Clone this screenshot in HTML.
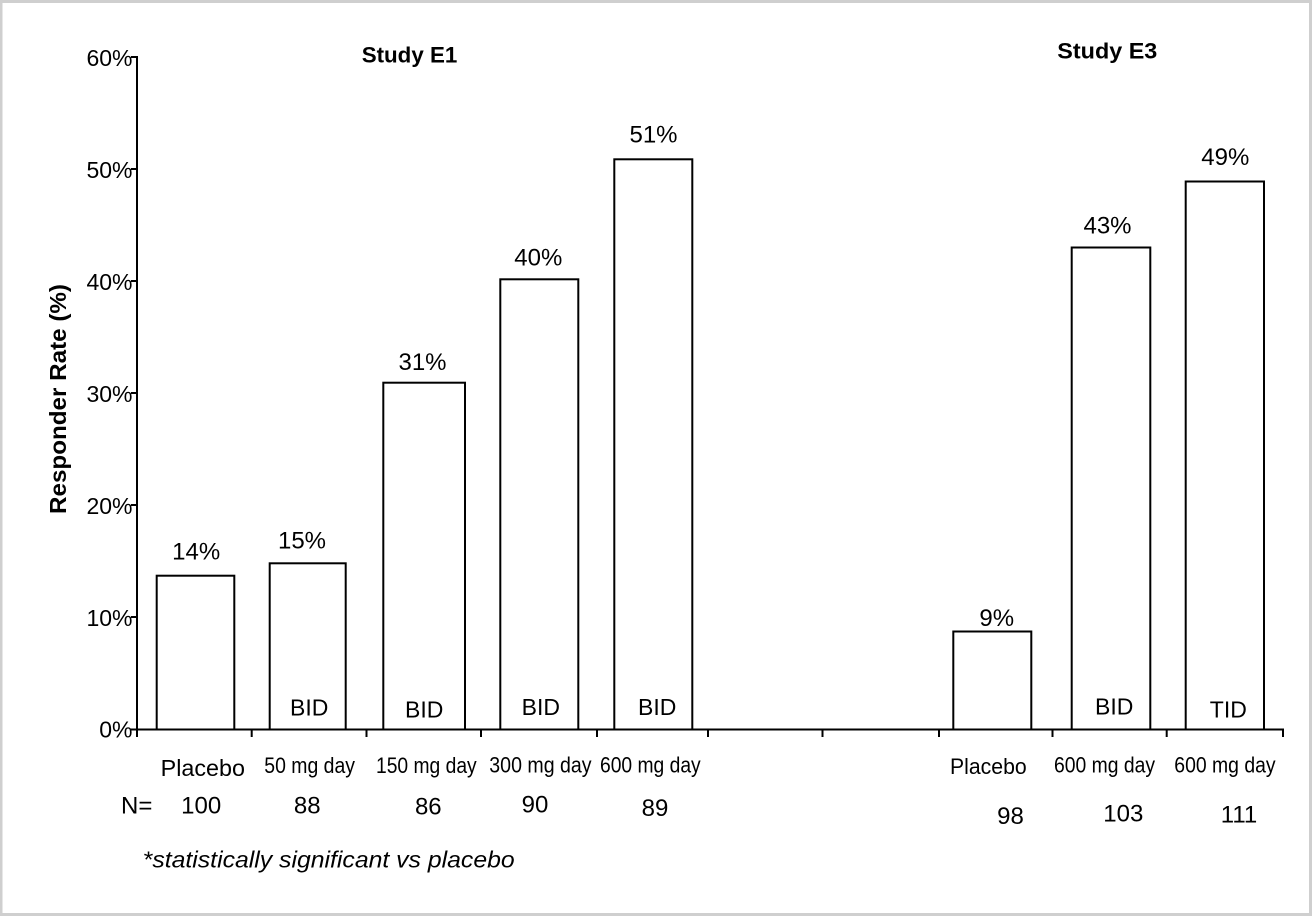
<!DOCTYPE html>
<html>
<head>
<meta charset="utf-8">
<style>
  html, body { margin: 0; padding: 0; background: #ffffff; }
  svg { display: block; }
  text { font-family: "Liberation Sans", Arial, sans-serif; fill: #000; }
</style>
</head>
<body>
<svg width="1312" height="916" viewBox="0 0 1312 916" xmlns="http://www.w3.org/2000/svg">
  <!-- background & frame -->
  <rect x="0" y="0" width="1312" height="916" fill="#ffffff"/>
  <rect x="1" y="1.5" width="1309.5" height="913" fill="none" stroke="#cfcfcf" stroke-width="3"/>

  <!-- Titles -->
  <text x="361.7" y="62.3" font-size="22.5" font-weight="bold" textLength="95.6" lengthAdjust="spacingAndGlyphs">Study E1</text>
  <text x="1057.3" y="58.3" font-size="22.5" font-weight="bold" textLength="100" lengthAdjust="spacingAndGlyphs">Study E3</text>

  <!-- Y axis title -->
  <text transform="rotate(-90)" x="-399" y="66" font-size="23" font-weight="bold" text-anchor="middle" textLength="230" lengthAdjust="spacingAndGlyphs">Responder Rate (%)</text>

  <!-- Axes -->
  <g stroke="#000" stroke-width="2" fill="none">
    <line x1="137" y1="56" x2="137" y2="730"/>
    <line x1="136" y1="729.5" x2="1284" y2="729.5"/>
    <!-- y ticks -->
    <line x1="131" y1="57" x2="137" y2="57"/>
    <line x1="131" y1="169" x2="137" y2="169"/>
    <line x1="131" y1="281" x2="137" y2="281"/>
    <line x1="131" y1="393" x2="137" y2="393"/>
    <line x1="131" y1="505" x2="137" y2="505"/>
    <line x1="131" y1="617" x2="137" y2="617"/>
    <line x1="131" y1="729.5" x2="137" y2="729.5"/>
    <!-- x ticks -->
    <line x1="137" y1="729" x2="137" y2="737"/>
    <line x1="251.7" y1="729" x2="251.7" y2="737"/>
    <line x1="366.5" y1="729" x2="366.5" y2="737"/>
    <line x1="481" y1="729" x2="481" y2="737"/>
    <line x1="597" y1="729" x2="597" y2="737"/>
    <line x1="708" y1="729" x2="708" y2="737"/>
    <line x1="822.5" y1="729" x2="822.5" y2="737"/>
    <line x1="939" y1="729" x2="939" y2="737"/>
    <line x1="1052.5" y1="729" x2="1052.5" y2="737"/>
    <line x1="1166.7" y1="729" x2="1166.7" y2="737"/>
    <line x1="1283" y1="729" x2="1283" y2="737"/>
  </g>

  <!-- Y tick labels -->
  <g font-size="23" text-anchor="end">
    <text x="132.5" y="66">60%</text>
    <text x="132.5" y="178">50%</text>
    <text x="132.5" y="290">40%</text>
    <text x="132.5" y="402">30%</text>
    <text x="132.5" y="514">20%</text>
    <text x="132.5" y="626">10%</text>
    <text x="132.5" y="737.5">0%</text>
  </g>

  <!-- Bars -->
  <g stroke="#000" stroke-width="2" fill="#ffffff">
    <rect x="156.7" y="575.7" width="77.6" height="153.8"/>
    <rect x="269.7" y="563.3" width="76" height="166.2"/>
    <rect x="383.3" y="382.7" width="81.7" height="346.8"/>
    <rect x="500.3" y="279.3" width="78" height="450.2"/>
    <rect x="614.3" y="159.3" width="78" height="570.2"/>
    <rect x="953.3" y="631.5" width="78" height="98"/>
    <rect x="1071.7" y="247.5" width="78.6" height="482"/>
    <rect x="1185.7" y="181.5" width="78.3" height="548"/>
  </g>

  <!-- Bar value labels -->
  <g font-size="24" text-anchor="middle">
    <text x="196.2" y="559.3">14%</text>
    <text x="302" y="548.3">15%</text>
    <text x="422.5" y="370">31%</text>
    <text x="538.3" y="265.7">40%</text>
    <text x="653.5" y="142.3">51%</text>
    <text x="996.7" y="626">9%</text>
    <text x="1107.5" y="233.3">43%</text>
    <text x="1225.3" y="165">49%</text>
  </g>

  <!-- Dosing labels inside bars -->
  <g font-size="23" text-anchor="middle">
    <text x="309.2" y="715.7">BID</text>
    <text x="424.2" y="717.3">BID</text>
    <text x="540.8" y="715">BID</text>
    <text x="657.2" y="715">BID</text>
    <text x="1114.2" y="714.3">BID</text>
    <text x="1228.3" y="717.3">TID</text>
  </g>

  <!-- Category labels -->
  <g font-size="22">
    <text x="160.7" y="776" font-size="23" textLength="84.3" lengthAdjust="spacingAndGlyphs">Placebo</text>
    <text x="264.3" y="773" textLength="90.7" lengthAdjust="spacingAndGlyphs">50 mg day</text>
    <text x="376" y="773" textLength="100.7" lengthAdjust="spacingAndGlyphs">150 mg day</text>
    <text x="489.3" y="772.7" textLength="102.3" lengthAdjust="spacingAndGlyphs">300 mg day</text>
    <text x="600" y="772.7" textLength="100.7" lengthAdjust="spacingAndGlyphs">600 mg day</text>
    <text x="950" y="774" textLength="76.7" lengthAdjust="spacingAndGlyphs">Placebo</text>
    <text x="1054" y="772.5" textLength="101" lengthAdjust="spacingAndGlyphs">600 mg day</text>
    <text x="1174.3" y="772.5" textLength="101.3" lengthAdjust="spacingAndGlyphs">600 mg day</text>
  </g>

  <!-- N row -->
  <g font-size="24">
    <text x="121" y="813.3">N=</text>
  </g>
  <g font-size="24" text-anchor="middle">
    <text x="201.2" y="813.3">100</text>
    <text x="307.2" y="813.3">88</text>
    <text x="428.3" y="814.5">86</text>
    <text x="535" y="812.7">90</text>
    <text x="655" y="816">89</text>
    <text x="1010.5" y="824">98</text>
    <text x="1123.3" y="821.3">103</text>
    <text x="1239" y="822.7">111</text>
  </g>

  <!-- Footnote -->
  <text x="142.7" y="867.3" font-size="23" font-style="italic" textLength="372" lengthAdjust="spacingAndGlyphs">*statistically significant vs placebo</text>
</svg>
</body>
</html>
